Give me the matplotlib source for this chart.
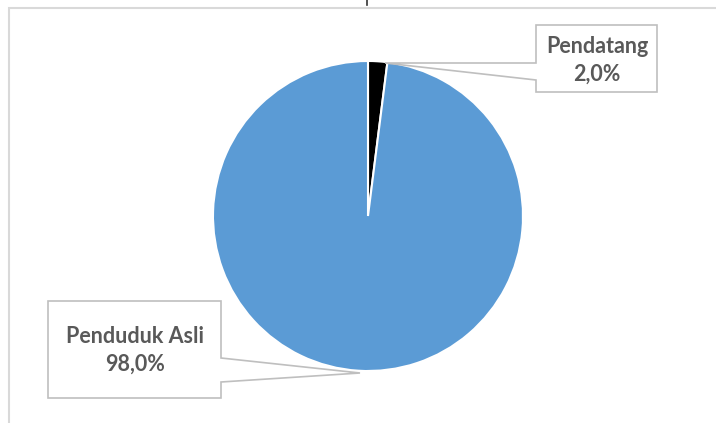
import matplotlib
matplotlib.use("Agg")
import matplotlib.pyplot as plt
from matplotlib.patches import Polygon, Rectangle

categories = ["Pendatang", "Penduduk Asli"]
values = [2.0, 98.0]
colors = ["#000000", "#5B9BD5"]

W, H = 716, 423
fig = plt.figure(figsize=(W / 100, H / 100), dpi=100)
ax = fig.add_axes([0, 0, 1, 1])

def Y(y):
    return H - y

wedges, _ = ax.pie(values, colors=colors, startangle=90, counterclock=False,
                   center=(368, Y(216)), radius=155,
                   wedgeprops=dict(edgecolor="white", linewidth=1.5))
ax.set_xlim(0, W)
ax.set_ylim(0, H)
ax.set_aspect("equal")
ax.axis("off")

# chart-area frame and small mark at top
ax.add_patch(Rectangle((9, Y(440)), 720, 440 - 8, fill=False,
                       edgecolor="#D9D9D9", linewidth=1.5, zorder=0))
ax.plot([367, 367], [Y(0), Y(5)], color="#333333", linewidth=1.2)

label_color = "#595959"
border = "#BFBFBF"
family = "Lato"
fs = 15.5

def callout(box, gap, tip, side):
    x0, y0, x1, y1 = box
    g0, g1 = gap
    if side == "left":
        pts = [(x0, y0), (x1, y0), (x1, y1), (x0, y1), (x0, g1), tip, (x0, g0)]
    else:
        pts = [(x0, y0), (x1, y0), (x1, g0), tip, (x1, g1), (x1, y1), (x0, y1)]
    ax.add_patch(Polygon([(x, Y(y)) for x, y in pts], closed=True, facecolor="white",
                         edgecolor=border, linewidth=1.2, zorder=5))

pct = [f"{v:.1f}".replace(".", ",") + "%" for v in values]
kw = dict(ha="center", va="center", fontsize=fs, fontweight="bold",
          color=label_color, family=family, zorder=6)

callout((536, 25, 657, 92), (63, 80), (385, 63), "left")
ax.text(597, Y(46), categories[0], **kw)
ax.text(597, Y(74), pct[0], **kw)

callout((48, 301, 221, 398), (358, 382), (360, 373), "right")
ax.text(135, Y(336), categories[1], **kw)
ax.text(135, Y(364), pct[1], **kw)

fig.savefig("out.png", dpi=100, facecolor="white")
